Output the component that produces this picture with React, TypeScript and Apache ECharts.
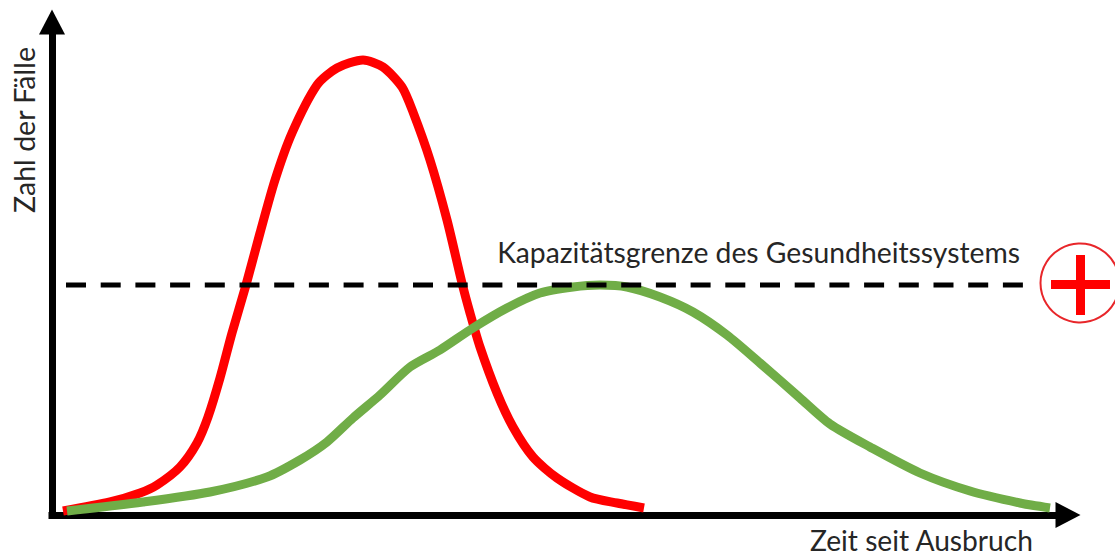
import React, { useEffect, useRef } from "react";
import * as echarts from "echarts";

const redX = [11, 58, 88, 105, 128, 145, 156, 168, 180, 194, 208, 223, 240, 265, 285, 311, 331, 350, 361, 378, 395, 410, 418, 428, 445, 461, 481, 505, 538, 565, 592];
const redY = [4, 13, 22, 30, 48, 72, 98, 137, 182, 230, 282, 335, 382, 430, 447, 455, 448, 428, 403, 355, 295, 232, 202, 168, 122, 88, 58, 37, 18, 12, 7];
const greenX = [15, 91, 158, 215, 248, 275, 301, 328, 358, 388, 421, 455, 488, 521, 548, 575, 608, 641, 675, 708, 748, 778, 818, 868, 918, 968, 998];
const greenY = [4, 13, 23, 38, 55, 73, 97, 120, 148, 165, 187, 207, 222, 228, 230, 228, 218, 203, 180, 152, 117, 91, 68, 42, 24, 12, 7];
const capacityX = [14, 978];
const capacityY = [230, 230];
const xName = "Zeit seit Ausbruch";
const yName = "Zahl der Fälle";
const capacityName = "Kapazitätsgrenze des Gesundheitssystems";

const RED = "#ff0000";
const GREEN = "#70ad47";
const FONT = "Lato, 'Open Sans', sans-serif";
const zip = (xs: number[], ys: number[]) => xs.map((x, i) => [x, ys[i]]);

export default function App() {
  const ref = useRef<HTMLDivElement>(null);
  useEffect(() => {
    const chart = echarts.init(ref.current!, null, { renderer: "svg" });
    const axisLine = () => ({
      show: true,
      symbol: ["none", "triangle"],
      symbolSize: [26, 25],
      lineStyle: { color: "#000", width: 7, cap: "square" },
      onZero: false,
    });
    const curve = (color: string) => ({ color, width: 9, cap: "butt" });
    chart.setOption({
      animation: false,
      backgroundColor: "#fff",
      grid: { left: 52, right: 47, top: 22, bottom: 41 },
      xAxis: {
        type: "value", min: 0, max: 1016, splitLine: { show: false },
        axisTick: { show: false }, axisLabel: { show: false }, axisLine: axisLine(),
      },
      yAxis: {
        type: "value", min: 0, max: 493, splitLine: { show: false },
        axisTick: { show: false }, axisLabel: { show: false }, axisLine: axisLine(),
      },
      series: [
        { type: "line", name: "Ohne Maßnahmen", data: zip(redX, redY), smooth: 0.25, showSymbol: false, clip: false, lineStyle: curve(RED) },
        { type: "line", name: "Mit Maßnahmen", data: zip(greenX, greenY), smooth: 0.25, showSymbol: false, clip: false, lineStyle: curve(GREEN) },
        { type: "line", name: capacityName, data: zip(capacityX, capacityY), showSymbol: false, clip: false,
          lineStyle: { color: "#000", width: 5, type: [20, 14.7] } },
      ],
      graphic: [
        { type: "text", x: 1033, y: 540, style: { text: xName, font: `28.2px ${FONT}`, fill: "#262626", align: "right", verticalAlign: "middle" } },
        { type: "text", x: 1020, y: 252, style: { text: capacityName, font: `28.3px ${FONT}`, fill: "#262626", align: "right", verticalAlign: "middle" } },
        { type: "text", x: 24, y: 130, rotation: Math.PI / 2, style: { text: yName, font: `28.5px ${FONT}`, fill: "#262626", align: "center", verticalAlign: "middle" } },
        { type: "circle", shape: { cx: 1080, cy: 283, r: 39.5 }, style: { fill: "#fff", stroke: "#e8262a", lineWidth: 2 } },
        { type: "rect", shape: { x: 1051, y: 280, width: 59, height: 9 }, style: { fill: RED } },
        { type: "rect", shape: { x: 1076, y: 255, width: 9, height: 60 }, style: { fill: RED } },
      ],
    });
    return () => chart.dispose();
  }, []);
  return <div ref={ref} style={{ position: "fixed", left: 0, top: 0, width: 1115, height: 556 }} />;
}
